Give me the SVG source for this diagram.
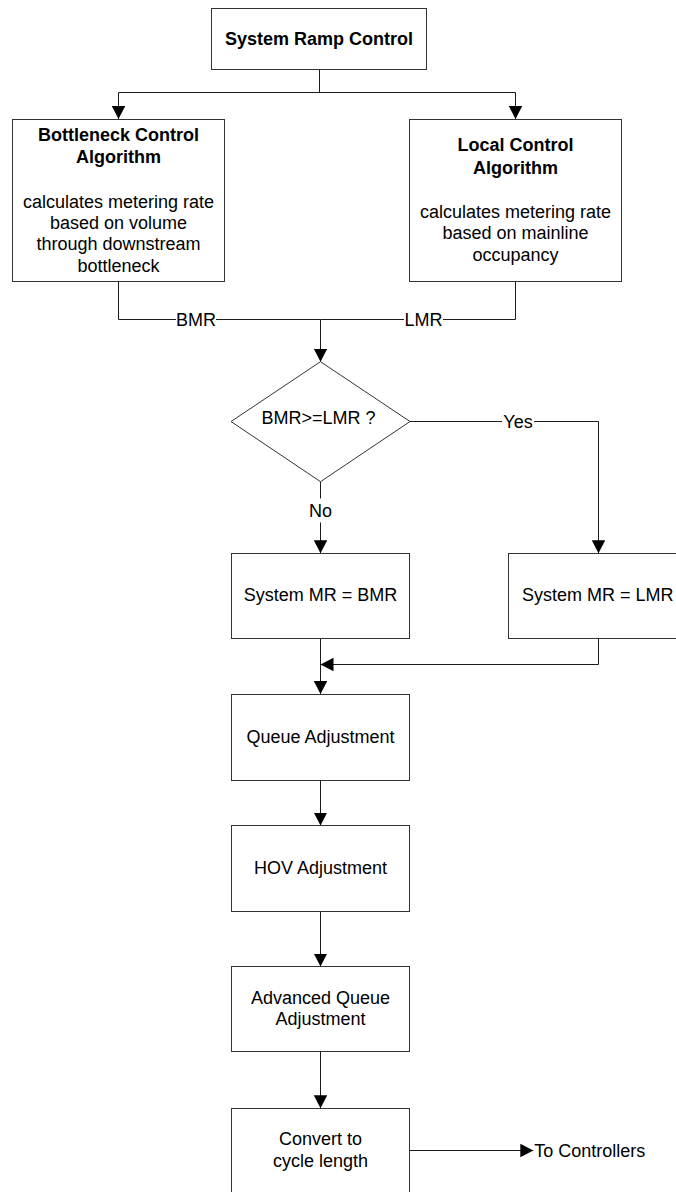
<svg xmlns="http://www.w3.org/2000/svg" width="676" height="1192" viewBox="0 0 676 1192">
<style>
.box{fill:#fff;stroke:#333;stroke-width:1}
.ln{fill:none;stroke:#1a1a1a;stroke-width:1}
text{font-family:"Liberation Sans",Arial,sans-serif;font-size:18px;fill:#000;text-anchor:middle}
.b{font-weight:bold}
.lbl{fill:#fff;stroke:none}
</style>
<defs>
<marker id="arr" markerUnits="userSpaceOnUse" markerWidth="14" markerHeight="14" refX="13" refY="6.75" orient="auto" viewBox="0 0 14 14">
<path d="M0,0 L13,6.75 L0,13.5 z" fill="#000"/>
</marker>
</defs>
<rect width="676" height="1192" fill="#fff"/>
<g id="connectors">
<path class="ln" d="M319.5 69.5 V92.5"/>
<path class="ln" d="M118.5 92.5 H515.5"/>
<path class="ln" d="M118.5 92.5 V119" marker-end="url(#arr)"/>
<path class="ln" d="M515.5 92.5 V119" marker-end="url(#arr)"/>
<path class="ln" d="M118.5 281.5 V319.5 H320.5"/>
<path class="ln" d="M515.5 281.5 V319.5 H320.5"/>
<path class="ln" d="M320.5 319.5 V361.7" marker-end="url(#arr)"/>
<path class="ln" d="M320.5 481.7 V553.3" marker-end="url(#arr)"/>
<path class="ln" d="M410 421.5 H598.5 V553.3" marker-end="url(#arr)"/>
<path class="ln" d="M320.5 638.5 V694" marker-end="url(#arr)"/>
<path class="ln" d="M598.5 638.5 V664.5 H320.5" marker-end="url(#arr)"/>
<path class="ln" d="M320.5 780.5 V825.5" marker-end="url(#arr)"/>
<path class="ln" d="M320.5 911.5 V966.5" marker-end="url(#arr)"/>
<path class="ln" d="M320.5 1051.5 V1108.3" marker-end="url(#arr)"/>
<path class="ln" d="M409.5 1150.5 H533.3" marker-end="url(#arr)"/>
<rect class="lbl" x="176" y="310" width="40" height="18"/>
<text x="196" y="325.5">BMR</text>
<rect class="lbl" x="404" y="310" width="39" height="18"/>
<text x="423.5" y="325.5">LMR</text>
<rect class="lbl" x="502" y="412" width="32" height="18"/>
<text x="518" y="427.5">Yes</text>
<rect class="lbl" x="308" y="498.5" width="25" height="24"/>
<text x="320.5" y="516.5">No</text>
</g>
<g id="n-system-ramp-control">
<rect class="box" x="211.5" y="8.5" width="215" height="61"/>
<text class="b" x="319" y="44.5">System Ramp Control</text>
</g>
<g id="n-bottleneck">
<rect class="box" x="12.5" y="119.5" width="212" height="162"/>
<text class="b" x="118.5" y="140.5">Bottleneck Control</text>
<text class="b" x="118.5" y="162.5">Algorithm</text>
<text x="118.5" y="207.7">calculates metering rate</text>
<text x="118.5" y="228.9">based on volume</text>
<text x="118.5" y="250.3">through downstream</text>
<text x="118.5" y="271.7">bottleneck</text>
</g>
<g id="n-local">
<rect class="box" x="409.5" y="119.5" width="212" height="162"/>
<text class="b" x="515.5" y="151">Local Control</text>
<text class="b" x="515.5" y="174.3">Algorithm</text>
<text x="515.5" y="217.7">calculates metering rate</text>
<text x="515.5" y="239.3">based on mainline</text>
<text x="515.5" y="261">occupancy</text>
</g>
<g id="n-decision">
<polygon class="box" points="320.5,361.7 410,421.5 320.5,481.7 231,421.5"/>
<text x="318.5" y="423.5">BMR&gt;=LMR ?</text>
</g>
<g id="n-mr-bmr">
<rect class="box" x="231.5" y="553.5" width="178" height="85"/>
<text x="320.5" y="601">System MR = BMR</text>
</g>
<g id="n-mr-lmr">
<rect class="box" x="508.5" y="553.5" width="180" height="85"/>
<text x="597.7" y="601">System MR = LMR</text>
</g>
<g id="n-queue">
<rect class="box" x="231.5" y="694.5" width="178" height="86"/>
<text x="320.5" y="743.3">Queue Adjustment</text>
</g>
<g id="n-hov">
<rect class="box" x="231.5" y="825.5" width="178" height="86"/>
<text x="320.5" y="874.3">HOV Adjustment</text>
</g>
<g id="n-advanced">
<rect class="box" x="231.5" y="966.5" width="178" height="85"/>
<text x="320.5" y="1004.3">Advanced Queue</text>
<text x="320.5" y="1025">Adjustment</text>
</g>
<g id="n-convert">
<rect class="box" x="231.5" y="1108.5" width="178" height="100"/>
<text x="320.5" y="1145.3">Convert to</text>
<text x="320.5" y="1167">cycle length</text>
</g>
<g id="n-to-controllers">
<text x="534.3" y="1156.5" style="text-anchor:start">To Controllers</text>
</g>
</svg>
